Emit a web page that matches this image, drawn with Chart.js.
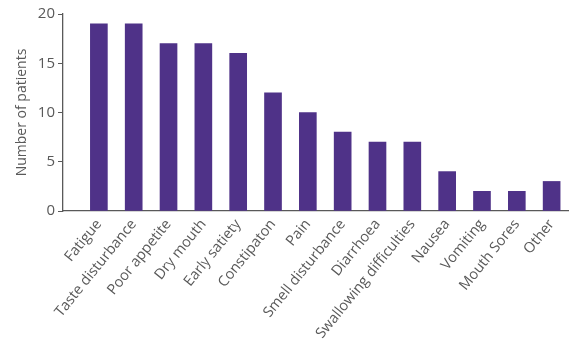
<!DOCTYPE html>
<html><head><meta charset="utf-8">
<script src="https://cdn.jsdelivr.net/npm/chart.js@4/dist/chart.umd.min.js"></script>
<style>html,body{margin:0;padding:0;background:#fff}#wrap{width:576px;height:354px}</style>
</head><body><div id="wrap"><canvas id="c" width="576" height="354"></canvas></div>
<script>
const categories = ["Fatigue","Taste disturbance","Poor appetite","Dry mouth","Early satiety","Constipaton","Pain","Smell disturbance","Diarrhoea","Swallowing difficulties","Nausea","Vomiting","Mouth Sores","Other"];
const patients = [19,19,17,17,16,12,10,8,7,7,4,2,2,3];
const yTicks = [0,5,10,15,20];
const yTitle = "Number of patients";

const grey = '#595959';
const font = "'Open Sans', sans-serif";
new Chart(document.getElementById('c'), {
  type: 'bar',
  data: { labels: categories, datasets: [{ data: patients, backgroundColor: '#4f3288', borderWidth: 0, barThickness: 17 }] },
  options: {
    responsive: false, animation: false, devicePixelRatio: 1,
    layout: { padding: { top: 14, right: 8, left: 0, bottom: 0 } },
    plugins: { legend: { display: false }, tooltip: { enabled: false } },
    scales: {
      x: {
        offset: true,
        grid: { display: false, drawTicks: false },
        border: { display: true, color: grey, width: 1.3 },
        ticks: { autoSkip: false, minRotation: 51, maxRotation: 51, color: grey, padding: 5, font: { family: font, size: 14.5 } },
        afterBuildTicks: s => { s._startValue = -1.03; s._valueRange = 14.5; },
        afterFit: s => { s.height = 143; }
      },
      y: {
        min: 0, max: 20,
        afterBuildTicks: s => { s.ticks = yTicks.map(v => ({ value: v })); },
        grid: { drawOnChartArea: false, drawTicks: true, tickLength: 5, color: grey },
        border: { display: true, color: grey, width: 1.3 },
        ticks: { color: grey, padding: 3, font: { family: font, size: 15 } },
        title: { display: true, text: yTitle, color: grey, font: { family: font, size: 14 }, padding: { top: 14, bottom: 0 } },
        afterFit: s => { s.width = 63; }
      }
    }
  }
});
</script></body></html>
